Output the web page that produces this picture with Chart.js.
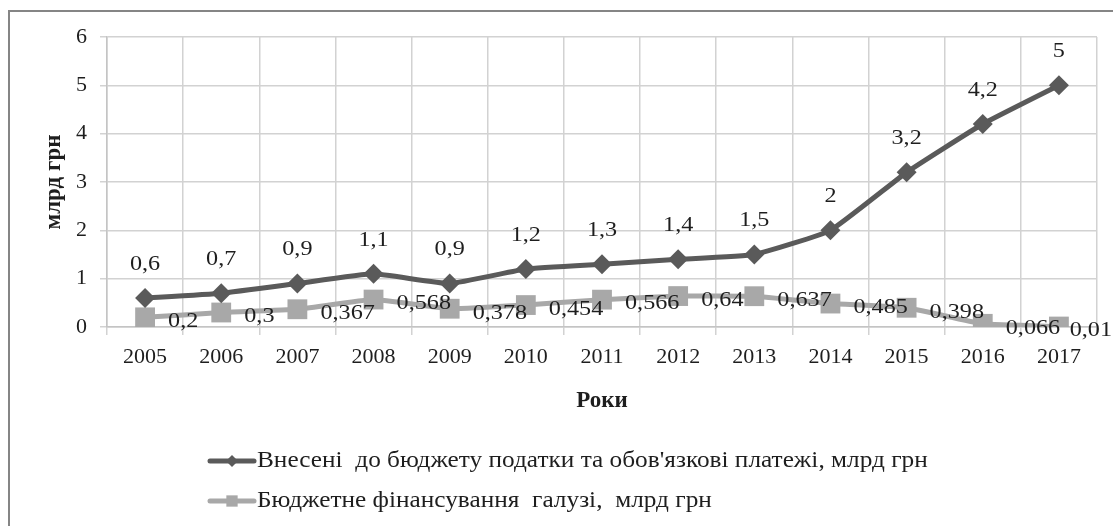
<!DOCTYPE html>
<html>
<head>
<meta charset="utf-8">
<script src="https://cdn.jsdelivr.net/npm/chart.js@4.4.0/dist/chart.umd.min.js"></script>
<style>
  html, body { margin: 0; padding: 0; background: #fff; }
  #wrap { width: 1113px; height: 526px; position: relative; }
</style>
</head>
<body>
<div id="wrap"><canvas id="mycanvas" width="1113" height="526"></canvas></div>
<script>
var years = ['2005', '2006', '2007', '2008', '2009', '2010', '2011', '2012', '2013', '2014', '2015', '2016', '2017'];
var taxes = [0.6, 0.7, 0.9, 1.1, 0.9, 1.2, 1.3, 1.4, 1.5, 2, 3.2, 4.2, 5];
var funding = [0.2, 0.3, 0.367, 0.568, 0.378, 0.454, 0.566, 0.64, 0.637, 0.485, 0.398, 0.066, 0.01];
var yTicks = [0, 1, 2, 3, 4, 5, 6];

var seriesNames = [
  "Внесені  до бюджету податки та обов'язкові платежі, млрд грн",
  'Бюджетне фінансування  галузі,  млрд грн'
];
var darkColor = '#5a5a5a';
var lightColor = '#a8a8a8';
var serif = '"Liberation Serif", "Times New Roman", serif';
var textColor = '#1e1e1e';
var stretch = 1.1; // the original's text is a bit wider than Liberation Serif

function fmt(v) {
  return String(v).replace('.', ',');
}

// draw text widened horizontally, x is the left edge (or centre)
function wideText(ctx, text, x, y, align) {
  var w = ctx.measureText(text).width * stretch;
  var left = align === 'center' ? x - w / 2 : x;
  ctx.save();
  ctx.translate(left, y);
  ctx.scale(stretch, 1);
  ctx.textAlign = 'left';
  ctx.textBaseline = 'middle';
  ctx.fillText(text, 0, 0);
  ctx.restore();
  return w;
}

// value labels, drawn at the points chart.js placed
var valueLabels = {
  id: 'valueLabels',
  afterDatasetsDraw: function(chart) {
    var ctx = chart.ctx;
    ctx.save();
    ctx.font = '22px ' + serif;
    ctx.fillStyle = textColor;
    chart.getDatasetMeta(0).data.forEach(function(pt, i) {
      wideText(ctx, fmt(taxes[i]), pt.x, pt.y - 34, 'center');
    });
    chart.getDatasetMeta(1).data.forEach(function(pt, i) {
      var txt = fmt(funding[i]);
      var w = ctx.measureText(txt).width * stretch;
      var x = Math.min(pt.x + 23, chart.width - w - 1);
      wideText(ctx, txt, x, pt.y + 4, 'left');
    });
    ctx.restore();
  }
};

// frame + legend in the style of the original
var frameAndLegend = {
  id: 'frameAndLegend',
  afterDraw: function(chart) {
    var ctx = chart.ctx;
    ctx.save();
    ctx.strokeStyle = '#858585';
    ctx.lineWidth = 2;
    ctx.beginPath();
    ctx.moveTo(9, 526);
    ctx.lineTo(9, 11);
    ctx.lineTo(1113, 11);
    ctx.stroke();

    var rows = [
      {y: 461, color: darkColor, style: 'rectRot', r: 6, text: seriesNames[0]},
      {y: 501, color: lightColor, style: 'rect', r: 8, text: seriesNames[1]}
    ];
    rows.forEach(function(row) {
      ctx.strokeStyle = row.color;
      ctx.fillStyle = row.color;
      ctx.lineWidth = 5;
      ctx.lineCap = 'round';
      ctx.beginPath();
      ctx.moveTo(210, row.y);
      ctx.lineTo(254, row.y);
      ctx.stroke();
      Chart.helpers.drawPoint(ctx, {pointStyle: row.style, radius: row.r, borderWidth: 0}, 232, row.y);
      ctx.fillStyle = textColor;
      ctx.font = '23px ' + serif;
      wideText(ctx, row.text, 257, row.y, 'left');
    });
    ctx.restore();
  }
};

var ctx = document.getElementById('mycanvas');
var chart = new Chart(ctx, {
  type: 'line',
  data: {
    labels: years,
    datasets: [
      {
        label: seriesNames[0],
        data: taxes,
        borderColor: darkColor,
        backgroundColor: darkColor,
        borderWidth: 5,
        pointStyle: 'rectRot',
        pointRadius: 10,
        pointBorderWidth: 0,
        tension: 0.12
      },
      {
        label: seriesNames[1],
        data: funding,
        borderColor: lightColor,
        backgroundColor: lightColor,
        borderWidth: 5,
        pointStyle: 'rect',
        pointRadius: 14,
        pointBorderWidth: 0,
        tension: 0.12
      }
    ]
  },
  options: {
    responsive: false,
    animation: false,
    layout: { padding: { left: 0, right: 16, top: 37, bottom: 109 } },
    plugins: {
      legend: { display: false },
      tooltip: { enabled: false }
    },
    scales: {
      x: {
        offset: true,
        grid: { offset: true, color: '#d2d2d2', lineWidth: 1.5, tickLength: 8 },
        border: { color: '#c4c4c4', width: 1.5 },
        ticks: { color: textColor, font: { family: serif, size: 22 }, padding: 9, maxRotation: 0 },
        title: {
          display: true,
          text: 'Роки',
          color: textColor,
          font: { family: serif, size: 23, weight: 'bold' },
          padding: { top: 0, bottom: 2 }
        },
        afterFit: function(scale) { scale.height = 90; }
      },
      y: {
        min: 0,
        max: 6,
        afterBuildTicks: function(scale) {
          scale.ticks = yTicks.map(function(v) { return {value: v}; });
        },
        grid: { color: '#d2d2d2', lineWidth: 1.5, tickLength: 7 },
        border: { color: '#c4c4c4', width: 1.5 },
        ticks: { color: textColor, font: { family: serif, size: 22 }, padding: 13 },
        title: {
          display: true,
          text: 'млрд грн',
          color: textColor,
          font: { family: serif, size: 23, weight: 'bold' },
          padding: { top: 40, bottom: 0 }
        },
        afterFit: function(scale) { scale.width = 107; }
      }
    }
  },
  plugins: [valueLabels, frameAndLegend]
});
</script>
</body>
</html>
